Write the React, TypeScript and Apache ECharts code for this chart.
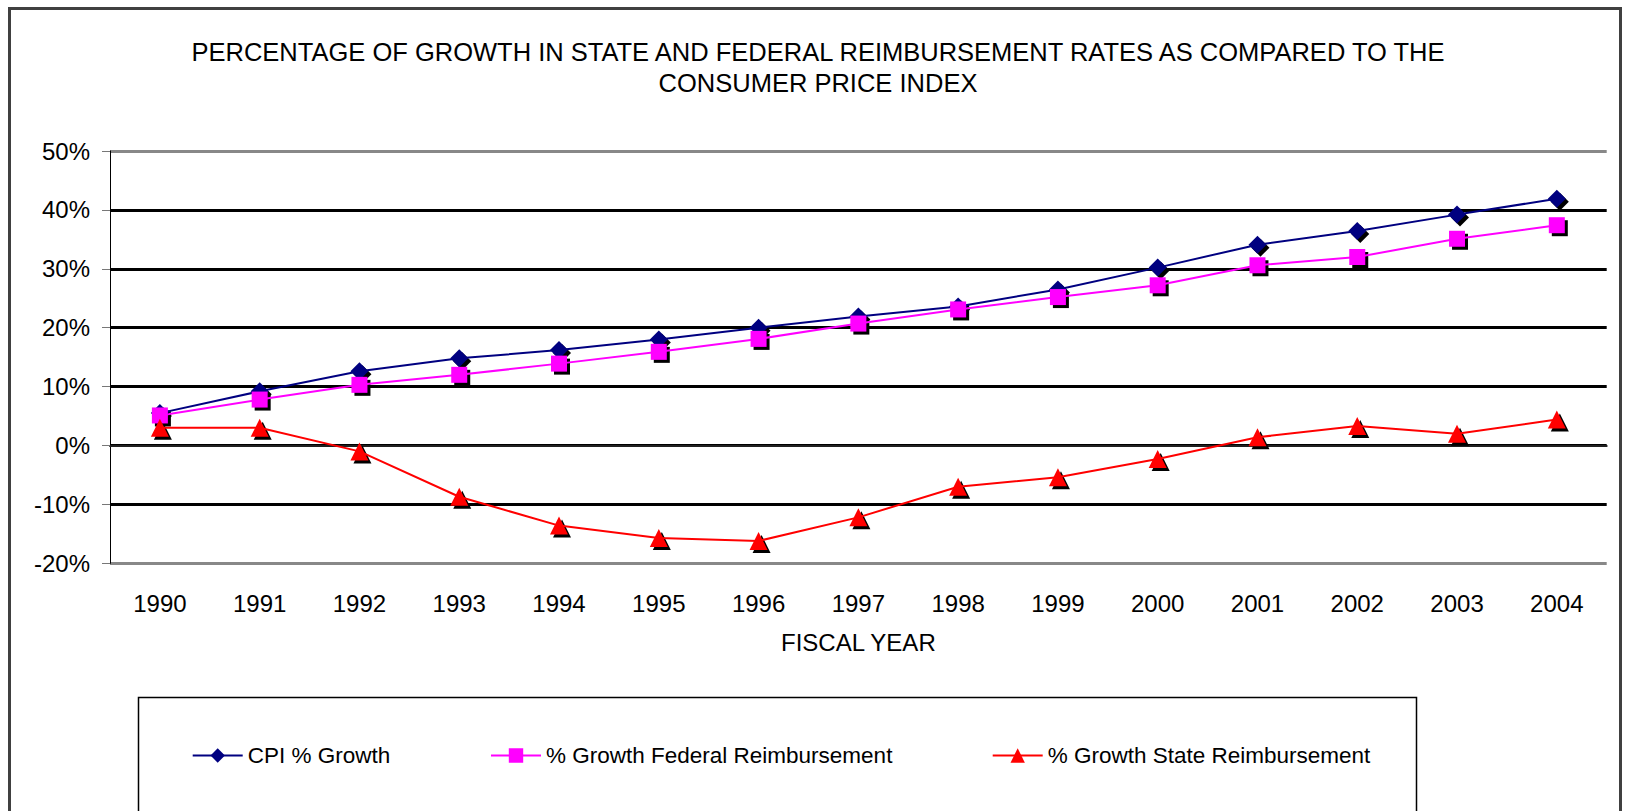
import React, { useEffect, useRef } from "react";
import * as echarts from "echarts";

const years = ["1990","1991","1992","1993","1994","1995","1996","1997","1998","1999","2000","2001","2002","2003","2004"];
const cpiGrowth = [5.5, 9.2, 12.6, 14.8, 16.2, 18.0, 20.0, 21.9, 23.6, 26.5, 30.2, 34.1, 36.4, 39.2, 41.9];
const federalGrowth = [5.1, 7.8, 10.3, 12.0, 13.9, 15.9, 18.1, 20.7, 23.1, 25.2, 27.2, 30.6, 32.0, 35.1, 37.4];
const stateGrowth = [3.0, 3.0, -1.0, -8.7, -13.6, -15.7, -16.2, -12.2, -7.0, -5.4, -2.3, 1.4, 3.3, 2.0, 4.4];

const seriesNames = ["CPI % Growth", "% Growth Federal Reimbursement", "% Growth State Reimbursement"];
const titleText = "PERCENTAGE OF GROWTH IN STATE AND FEDERAL REIMBURSEMENT RATES AS COMPARED TO THE\nCONSUMER PRICE INDEX";
const xAxisTitle = "FISCAL YEAR";

const FONT = "'Liberation Sans', Arial, sans-serif";

export default function App() {
  const ref = useRef<HTMLDivElement>(null);
  useEffect(() => {
    if (!ref.current) return;
    const chart = echarts.init(ref.current, null, { renderer: "svg" });

    const mainSeries = (name: string, data: number[], color: string, symbol: string, size: any) => ({
      name,
      type: "line",
      data,
      symbol,
      symbolSize: size,
      showAllSymbol: true,
      z: 3,
      lineStyle: { color, width: 2 },
      itemStyle: { color },
      emphasis: { disabled: true },
    });
    const shadowSeries = (name: string, data: number[], symbol: string, size: any) => ({
      name,
      type: "line",
      data,
      symbol,
      symbolSize: size,
      symbolOffset: [3, 3],
      showAllSymbol: true,
      silent: true,
      z: 2,
      lineStyle: { opacity: 0, width: 0 },
      itemStyle: { color: "#000" },
      emphasis: { disabled: true },
    });

    const legendBase = {
      top: 744,
      padding: 0,
      itemWidth: 50,
      itemHeight: 18,
      selectedMode: false,
      textStyle: { fontSize: 22.5, color: "#000", fontFamily: FONT },
    };

    chart.setOption({
      animation: false,
      textStyle: { fontFamily: FONT },
      graphic: [
        {
          type: "rect",
          shape: { x: 9.5, y: 8.5, width: 1611, height: 900 },
          style: { fill: "none", stroke: "#404040", lineWidth: 3 },
          silent: true,
        },
        {
          type: "rect",
          shape: { x: 138.5, y: 697.5, width: 1278, height: 200 },
          style: { fill: "none", stroke: "#000", lineWidth: 1.5 },
          silent: true,
        },
        {
          type: "text",
          x: 818,
          y: 36,
          style: {
            text: titleText,
            fill: "#000",
            fontSize: 25.5,
            fontFamily: FONT,
            align: "center",
            verticalAlign: "top",
            lineHeight: 31,
          },
        },
      ],
      legend: [
        { ...legendBase, left: 191.7, data: [seriesNames[0]] },
        { ...legendBase, left: 490, data: [seriesNames[1]] },
        { ...legendBase, left: 991.7, data: [seriesNames[2]] },
      ],
      grid: {
        left: 110,
        right: 19.3,
        top: 151,
        bottom: 247.7,
        containLabel: false,
        outerBoundsMode: "none",
      },
      xAxis: {
        type: "category",
        data: years,
        boundaryGap: true,
        name: xAxisTitle,
        nameLocation: "middle",
        nameGap: 67,
        nameTextStyle: { fontSize: 24, color: "#000", fontFamily: FONT },
        axisLine: {
          show: true,
          lineStyle: { color: "#202020", width: 2 },
        },
        axisTick: { show: false },
        axisLabel: { fontSize: 24, color: "#000", margin: 28, interval: 0, fontFamily: FONT },
        splitLine: { show: false },
      },
      yAxis: {
        type: "value",
        min: -20,
        max: 50,
        interval: 10,
        axisLine: { show: true, lineStyle: { color: "#000", width: 1 } },
        axisTick: { show: true, length: 8, lineStyle: { color: "#777", width: 1 } },
        axisLabel: { fontSize: 24, color: "#000", margin: 20, formatter: "{value}%", fontFamily: FONT },
        splitLine: {
          show: true,
          lineStyle: {
            color: ["#888", "#000", "#000", "#000", "#000", "#000", "#000", "#888"],
            width: 3,
          },
        },
      },
      series: [
        shadowSeries("cpiShadow", cpiGrowth, "diamond", [18, 18]),
        shadowSeries("federalShadow", federalGrowth, "rect", 16),
        shadowSeries("stateShadow", stateGrowth, "triangle", [18, 18]),
        mainSeries(seriesNames[0], cpiGrowth, "#000080", "diamond", [18, 18]),
        mainSeries(seriesNames[1], federalGrowth, "#FF00FF", "rect", 16),
        mainSeries(seriesNames[2], stateGrowth, "#FF0000", "triangle", [18, 18]),
      ],
    });
    return () => chart.dispose();
  }, []);
  return (
    <div
      ref={ref}
      style={{ position: "fixed", left: 0, top: 0, width: 1626, height: 811, background: "#fff" }}
    />
  );
}
